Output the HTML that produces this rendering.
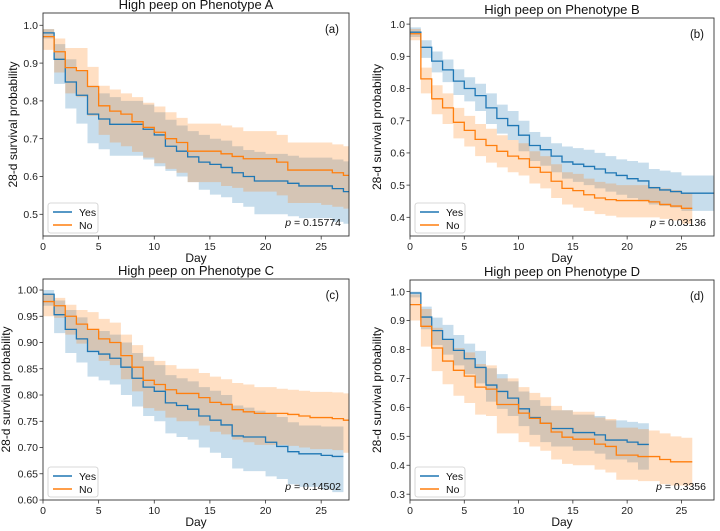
<!DOCTYPE html>
<html><head><meta charset="utf-8"><style>
body{margin:0;background:#fff;}
svg{display:block;font-family:"Liberation Sans","DejaVu Sans",sans-serif;}
</style></head><body>
<svg id="fig" width="720" height="531" viewBox="0 0 720 531" xmlns="http://www.w3.org/2000/svg"></svg>
<script>
// ---- Panel A data ----
const aYes=[0.98,0.91,0.85,0.815,0.765,0.752,0.738,0.738,0.738,0.725,0.71,0.68,0.667,0.652,0.638,0.632,0.624,0.61,0.60,0.588,0.588,0.588,0.582,0.575,0.575,0.575,0.568,0.56];
const aYesLo=[0.965,0.845,0.78,0.74,0.688,0.672,0.655,0.655,0.655,0.645,0.627,0.615,0.60,0.585,0.565,0.552,0.545,0.53,0.52,0.50,0.50,0.50,0.495,0.49,0.49,0.49,0.48,0.475];
const aYesHi=[0.99,0.95,0.91,0.88,0.84,0.82,0.81,0.80,0.80,0.79,0.77,0.75,0.735,0.72,0.71,0.70,0.695,0.68,0.67,0.665,0.66,0.66,0.655,0.65,0.65,0.65,0.645,0.64];
const aNo=[0.97,0.93,0.888,0.88,0.838,0.787,0.773,0.765,0.745,0.73,0.717,0.70,0.69,0.667,0.667,0.667,0.66,0.653,0.647,0.647,0.647,0.638,0.617,0.617,0.617,0.617,0.61,0.603];
const aNoLo=[0.935,0.875,0.82,0.81,0.76,0.71,0.69,0.68,0.665,0.65,0.635,0.62,0.61,0.585,0.585,0.585,0.575,0.57,0.56,0.56,0.56,0.55,0.53,0.53,0.53,0.525,0.52,0.515];
const aNoHi=[0.99,0.965,0.94,0.94,0.89,0.84,0.83,0.82,0.81,0.795,0.785,0.77,0.755,0.74,0.74,0.74,0.735,0.73,0.72,0.72,0.72,0.71,0.69,0.69,0.69,0.69,0.685,0.68];
// ---- Panel B data ----
const bYes=[0.975,0.928,0.885,0.858,0.823,0.8,0.778,0.74,0.707,0.685,0.655,0.623,0.61,0.59,0.572,0.565,0.558,0.55,0.538,0.53,0.52,0.513,0.492,0.485,0.48,0.475,0.475,0.475];
const bYesLo=[0.96,0.895,0.85,0.82,0.78,0.76,0.73,0.69,0.66,0.64,0.605,0.575,0.56,0.54,0.52,0.51,0.5,0.49,0.48,0.47,0.46,0.45,0.44,0.435,0.43,0.42,0.42,0.42];
const bYesHi=[0.99,0.95,0.915,0.89,0.86,0.835,0.815,0.785,0.75,0.73,0.7,0.665,0.65,0.63,0.62,0.615,0.61,0.6,0.59,0.58,0.575,0.57,0.55,0.545,0.54,0.53,0.53,0.53];
const bNo=[0.97,0.83,0.768,0.74,0.695,0.67,0.642,0.623,0.605,0.59,0.582,0.555,0.54,0.512,0.49,0.483,0.47,0.46,0.455,0.452,0.452,0.452,0.448,0.44,0.435,0.428];
const bNoLo=[0.95,0.785,0.72,0.69,0.645,0.62,0.59,0.57,0.555,0.54,0.53,0.505,0.49,0.46,0.44,0.43,0.42,0.41,0.405,0.4,0.4,0.4,0.4,0.395,0.39,0.38];
const bNoHi=[0.985,0.865,0.81,0.785,0.74,0.715,0.69,0.675,0.655,0.64,0.63,0.605,0.59,0.565,0.54,0.535,0.52,0.51,0.505,0.5,0.5,0.5,0.495,0.49,0.485,0.475];
// ---- Panel C data ----
const cYes=[0.992,0.953,0.925,0.907,0.883,0.878,0.87,0.853,0.832,0.815,0.807,0.785,0.78,0.773,0.76,0.752,0.743,0.722,0.72,0.72,0.71,0.702,0.692,0.688,0.688,0.685,0.683];
const cYesLo=[0.97,0.918,0.88,0.862,0.835,0.828,0.82,0.8,0.778,0.76,0.75,0.727,0.72,0.715,0.7,0.69,0.68,0.66,0.655,0.655,0.645,0.64,0.63,0.625,0.625,0.62,0.615];
const cYesHi=[1.0,0.98,0.962,0.948,0.925,0.922,0.915,0.9,0.88,0.865,0.857,0.838,0.832,0.826,0.815,0.808,0.8,0.78,0.776,0.77,0.765,0.758,0.748,0.742,0.742,0.74,0.74];
const cNo=[0.978,0.97,0.95,0.935,0.925,0.907,0.9,0.875,0.853,0.828,0.82,0.81,0.803,0.803,0.795,0.786,0.782,0.772,0.768,0.765,0.765,0.765,0.763,0.76,0.757,0.757,0.755,0.752];
const cNoLo=[0.95,0.947,0.915,0.898,0.885,0.865,0.857,0.83,0.807,0.775,0.77,0.757,0.75,0.75,0.742,0.73,0.725,0.715,0.71,0.705,0.705,0.705,0.703,0.7,0.697,0.697,0.695,0.69];
const cNoHi=[0.993,0.985,0.972,0.962,0.958,0.945,0.938,0.915,0.895,0.873,0.865,0.857,0.85,0.85,0.842,0.835,0.83,0.823,0.82,0.815,0.815,0.812,0.81,0.808,0.806,0.806,0.805,0.803];
// ---- Panel D data ----
const dYes=[0.995,0.912,0.865,0.835,0.797,0.768,0.738,0.677,0.655,0.632,0.595,0.565,0.545,0.527,0.527,0.513,0.513,0.505,0.487,0.487,0.48,0.472];
const dYesLo=[0.98,0.87,0.815,0.782,0.745,0.715,0.683,0.62,0.595,0.57,0.535,0.505,0.48,0.465,0.465,0.45,0.45,0.44,0.42,0.42,0.41,0.385];
const dYesHi=[1.0,0.948,0.91,0.885,0.85,0.82,0.795,0.735,0.715,0.69,0.655,0.625,0.605,0.59,0.59,0.575,0.575,0.57,0.555,0.555,0.55,0.545];
const dNo=[0.955,0.88,0.805,0.76,0.728,0.708,0.67,0.663,0.61,0.61,0.58,0.562,0.545,0.515,0.497,0.49,0.49,0.473,0.465,0.435,0.435,0.43,0.43,0.42,0.412,0.412];
const dNoLo=[0.9,0.81,0.725,0.68,0.64,0.615,0.575,0.57,0.51,0.51,0.48,0.465,0.45,0.42,0.405,0.4,0.4,0.385,0.375,0.35,0.35,0.345,0.345,0.335,0.33,0.33];
const dNoHi=[0.99,0.94,0.875,0.835,0.805,0.79,0.75,0.745,0.7,0.7,0.67,0.65,0.635,0.605,0.59,0.585,0.585,0.565,0.56,0.53,0.53,0.525,0.52,0.51,0.5,0.495];
// ---- tick labels ----
const xTicks=[0,5,10,15,20,25];
const aYTicks=[0.5,0.6,0.7,0.8,0.9,1.0];
const bYTicks=[0.4,0.5,0.6,0.7,0.8,0.9,1.0];
const cYTicks=[0.60,0.65,0.70,0.75,0.80,0.85,0.90,0.95,1.00];
const dYTicks=[0.3,0.4,0.5,0.6,0.7,0.8,0.9,1.0];
const pValues=["0.15774","0.03136","0.14502","0.3356"];

const NS="http://www.w3.org/2000/svg";
const svg=document.getElementById('fig');
function mk(tag,attrs,parent){const e=document.createElementNS(NS,tag);for(const k in attrs)e.setAttribute(k,attrs[k]);(parent||svg).appendChild(e);return e;}
const BLUE="#1f77b4",ORANGE="#ff7f0e";

function stepPts(vals,sx,sy,xmax){
  const pts=[];
  for(let i=0;i<vals.length;i++){
    const x0=sx(i),x1=sx(Math.min(i+1,xmax));
    pts.push([x0,sy(vals[i])],[x1,sy(vals[i])]);
  }
  return pts;
}
function panel(p){
  const g=mk('g',{});
  
  
  const sx=v=>p.L+(v-p.x0)/(p.x1-p.x0)*(p.R-p.L);
  const sy=v=>p.B-(v-p.y0)/(p.y1-p.y0)*(p.B-p.T);
  const cid='clip-'+p.key;
  const cp=mk('clipPath',{id:cid},g);mk('rect',{x:p.L,y:p.T,width:p.R-p.L,height:p.B-p.T},cp);
  const plot=mk('g',{'clip-path':'url(#'+cid+')'},g);
  const series=[[p.yes,p.yesLo,p.yesHi,BLUE,'yes'],[p.no,p.noLo,p.noHi,ORANGE,'no']];
  for(const s of series){
    const hi=stepPts(s[2],sx,sy,p.x1),lo=stepPts(s[1],sx,sy,p.x1).reverse();
    const poly=mk('polygon',{points:hi.concat(lo).map(q=>q.join(',')).join(' '),fill:s[3],'fill-opacity':0.25,stroke:'none'},plot);
    
    
  }
  for(const s of series){
    const pts=stepPts(s[0],sx,sy,p.x1);
    const pl=mk('polyline',{points:pts.map(q=>q.join(',')).join(' '),fill:'none',stroke:s[3],'stroke-width':1.3},plot);
    
    
  }
  mk('rect',{x:p.L,y:p.T,width:p.R-p.L,height:p.B-p.T,fill:'none',stroke:'#333','stroke-width':0.9},g);
  for(const t of xTicks){
    const x=sx(t);mk('line',{x1:x,x2:x,y1:p.B,y2:p.B+3.5,stroke:'#333','stroke-width':0.8},g);
    const tx=mk('text',{x:x,y:p.B+14,'font-size':10.5,'text-anchor':'middle',fill:'#222'},g);tx.textContent=t;
    
    
  }
  for(const t of p.yt){
    const y=sy(t);mk('line',{x1:p.L-3.5,x2:p.L,y1:y,y2:y,stroke:'#333','stroke-width':0.8},g);
    const tx=mk('text',{x:p.L-5,y:y+3.7,'font-size':10.5,'text-anchor':'end',fill:'#222'},g);tx.textContent=t.toFixed(p.dec);
    
    
  }
  const cx=(p.L+p.R)/2;
  const ti=mk('text',{x:cx,y:p.T-4,'font-size':13,'text-anchor':'middle',fill:'#111'},g);ti.textContent=p.title;
  
  
  const xl=mk('text',{x:cx,y:p.B+26,'font-size':12,'text-anchor':'middle',fill:'#111'},g);xl.textContent='Day';
  
  
  const ym=(p.T+p.B)/2;
  const yl=mk('text',{x:p.ylx,y:ym,'font-size':12,'text-anchor':'middle',fill:'#111',transform:'rotate(-90 '+p.ylx+' '+ym+')'},g);yl.textContent='28-d survival probability';
  
  
  const lb=mk('text',{x:p.R-10,y:p.T+20,'font-size':11.5,'text-anchor':'end',fill:'#111'},g);lb.textContent=p.label;
  
  
  const pv=mk('text',{x:p.R-8,y:p.B-10,'font-size':10.5,'text-anchor':'end',fill:'#111'},g);
  const it=mk('tspan',{'font-style':'italic'},pv);it.textContent='p';
  const rest=mk('tspan',{},pv);rest.textContent=' = '+p.pv;
  
  
  const lg=mk('g',{},g);
  
  
  const lx=p.L+5,ly=p.B-33;
  mk('rect',{x:lx,y:ly,width:50,height:30,rx:2.5,fill:'#fff','fill-opacity':0.85,stroke:'#ccc','stroke-width':0.8},lg);
  [['Yes',BLUE],['No',ORANGE]].forEach((e,i)=>{
    const yy=ly+9+i*13;
    const en=mk('g',{},lg);
    
    
    mk('line',{x1:lx+5,x2:lx+24,y1:yy,y2:yy,stroke:e[1],'stroke-width':1.4},en);
    const t=mk('text',{x:lx+31,y:yy+4,'font-size':10.5,fill:'#111'},en);t.textContent=e[0];
  });
}
panel({key:'a',title:'High peep on Phenotype A',label:'(a)',pv:pValues[0],L:43,R:349,T:13,B:236,x0:0,x1:27.5,y0:0.4426,y1:1.0325,yt:aYTicks,dec:1,ylx:17,yes:aYes,yesLo:aYesLo,yesHi:aYesHi,no:aNo,noLo:aNoLo,noHi:aNoHi});
panel({key:'b',title:'High peep on Phenotype B',label:'(b)',pv:pValues[1],L:410,R:714,T:18,B:236,x0:0,x1:28,y0:0.342,y1:1.019,yt:bYTicks,dec:1,ylx:381,yes:bYes,yesLo:bYesLo,yesHi:bYesHi,no:bNo,noLo:bNoLo,noHi:bNoHi});
panel({key:'c',title:'High peep on Phenotype C',label:'(c)',pv:pValues[2],L:43,R:349,T:279,B:500,x0:0,x1:27.5,y0:0.6,y1:1.021,yt:cYTicks,dec:2,ylx:10,yes:cYes,yesLo:cYesLo,yesHi:cYesHi,no:cNo,noLo:cNoLo,noHi:cNoHi});
panel({key:'d',title:'High peep on Phenotype D',label:'(d)',pv:pValues[3],L:410,R:714,T:280,B:500,x0:0,x1:28,y0:0.28,y1:1.04,yt:dYTicks,dec:1,ylx:381,yes:dYes,yesLo:dYesLo,yesHi:dYesHi,no:dNo,noLo:dNoLo,noHi:dNoHi});
</script>
</body></html>
